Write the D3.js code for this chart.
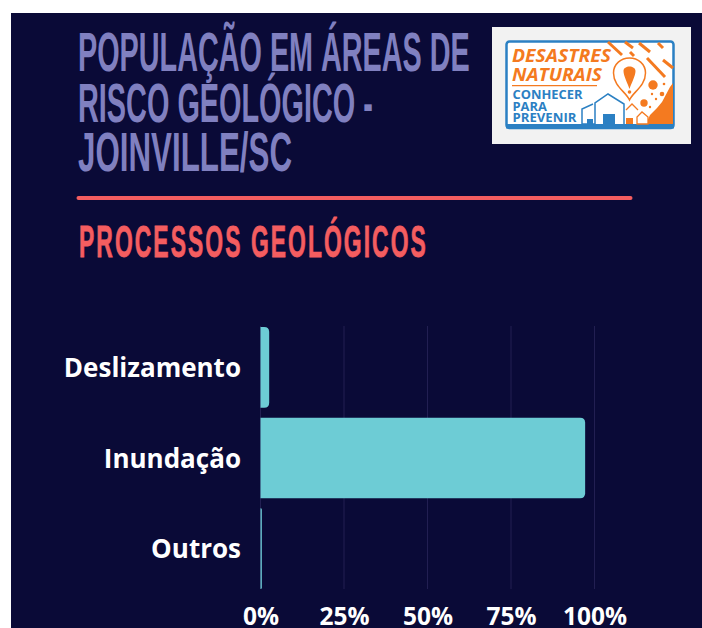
<!DOCTYPE html>
<html>
<head>
<meta charset="utf-8">
<script src="https://cdn.jsdelivr.net/npm/d3@7"></script>
<style>
html, body { margin: 0; padding: 0; background: #fff; overflow: hidden; }
svg { display: block; }
</style>
</head>
<body>
<svg id="chart" width="702" height="628"></svg>
<script>
const categories = ['Deslizamento', 'Inundação', 'Outros'];
const values = [2.6, 97.2, 0.4];
const xTicks = [0, 25, 50, 75, 100];
const titleLines = ['POPULAÇÃO EM ÁREAS DE', 'RISCO GEOLÓGICO -', 'JOINVILLE/SC'];
const subtitle = 'PROCESSOS GEOLÓGICOS';

const COLOR_BG = '#0a0a37';
const COLOR_TITLE = '#8080c0';
const COLOR_RED = '#f45d60';
const COLOR_BAR = '#6dccd5';
const COLOR_GRID = '#221f52';
const LOGO_BLUE = '#2b80c3';
const LOGO_ORANGE = '#f47a20';
const FONT_NARROW = '"Liberation Sans Narrow", "Liberation Sans", sans-serif';
const FONT_LABEL = '"Open Sans", "Noto Sans", sans-serif';

const root = d3.select('#chart');

root.append('rect')
    .attr('x', 11).attr('y', 13)
    .attr('width', 691).attr('height', 615)
    .attr('fill', COLOR_BG);

// texto condensado: mede a largura natural e escala so na horizontal
const fitText = (sel, tx, ty, width) => {
    const natural = sel.node().getComputedTextLength();
    sel.attr('transform', `translate(${tx},${ty}) scale(${width / natural},1)`);
};

// titulo
const titleBaselines = [71, 122, 171];
const titleWidths = [392, 295, 214];
titleLines.forEach((line, i) => {
    const t = root.append('text')
        .text(line)
        .attr('font-family', FONT_NARROW)
        .attr('font-weight', 700)
        .attr('font-size', 55)
        .attr('fill', COLOR_TITLE);
    fitText(t, 78, titleBaselines[i], titleWidths[i]);
});

root.append('line')
    .attr('x1', 78.5).attr('x2', 630.5)
    .attr('y1', 198).attr('y2', 198)
    .attr('stroke', COLOR_RED)
    .attr('stroke-width', 4)
    .attr('stroke-linecap', 'round');

const sub = root.append('text')
    .text(subtitle)
    .attr('font-family', FONT_NARROW)
    .attr('font-weight', 700)
    .attr('font-size', 44)
    .attr('letter-spacing', 4)
    .attr('stroke', COLOR_RED)
    .attr('stroke-width', 0.8)
    .attr('fill', COLOR_RED);
fitText(sub, 79, 257, 349);

// escalas
const x = d3.scaleLinear().domain([0, 100]).range([260.5, 594.5]);
const y = d3.scaleBand().domain(categories).range([322, 594]).paddingInner(0.11).paddingOuter(0.055);

// grade
const grid = root.append('g');
xTicks.forEach((t) => {
    grid.append('line')
        .attr('x1', x(t)).attr('x2', x(t))
        .attr('y1', 326).attr('y2', 589)
        .attr('stroke', COLOR_GRID)
        .attr('stroke-width', 1);
});

// barras, cantos arredondados so na direita
const barPath = (d, i) => {
    const x0 = x(0);
    const x1 = x(values[i]);
    const y0 = y(d);
    const y1 = y0 + y.bandwidth();
    const r = Math.min(5, x1 - x0);
    const p = d3.path();
    p.moveTo(x0, y0);
    p.lineTo(x1 - r, y0);
    p.quadraticCurveTo(x1, y0, x1, y0 + r);
    p.lineTo(x1, y1 - r);
    p.quadraticCurveTo(x1, y1, x1 - r, y1);
    p.lineTo(x0, y1);
    p.closePath();
    return p.toString();
};
root.append('g').selectAll('path')
    .data(categories)
    .join('path')
    .attr('d', barPath)
    .attr('fill', COLOR_BAR);

// eixos
const axisY = root.append('g')
    .attr('transform', 'translate(241,1.5)')
    .call(d3.axisLeft(y).tickSize(0).tickPadding(0));
axisY.select('.domain').remove();
axisY.selectAll('text')
    .attr('fill', '#fff')
    .attr('font-family', FONT_LABEL)
    .attr('font-weight', 700)
    .attr('font-size', 26);

const axisX = root.append('g')
    .attr('transform', 'translate(0,608)')
    .call(d3.axisBottom(x).tickValues(xTicks).tickFormat((d) => d + '%').tickSize(0).tickPadding(0));
axisX.select('.domain').remove();
axisX.selectAll('text')
    .attr('fill', '#fff')
    .attr('font-family', FONT_LABEL)
    .attr('font-weight', 700)
    .attr('font-size', 24.5);

// logo
const logo = root.append('g');
logo.append('rect')
    .attr('x', 492).attr('y', 27)
    .attr('width', 199).attr('height', 117)
    .attr('fill', '#f2f2f2');
logo.append('rect')
    .attr('x', 506.5).attr('y', 41.5)
    .attr('width', 167).attr('height', 86.5)
    .attr('rx', 3)
    .attr('fill', '#fff')
    .attr('stroke', LOGO_BLUE)
    .attr('stroke-width', 2.5);

// encosta laranja
logo.append('path')
    .attr('d', 'M646,124 L650,115 L657,108 L662,102 L670,87 L673,83 L673,124 Z')
    .attr('fill', LOGO_ORANGE);
logo.append('rect').attr('x', 626).attr('y', 118).attr('width', 7).attr('height', 6).attr('fill', LOGO_ORANGE);

logo.append('rect')
    .attr('x', 506).attr('y', 124)
    .attr('width', 168).attr('height', 4.5)
    .attr('fill', LOGO_BLUE);

// chuva
[[608, 42, 622, 55], [625, 42, 633, 48], [630, 52, 634, 56], [639, 43, 650, 52], [658, 43, 663, 48],
 [647, 58, 665, 77], [663, 60, 673, 68]].forEach((s) => {
    logo.append('line')
        .attr('x1', s[0]).attr('y1', s[1])
        .attr('x2', s[2]).attr('y2', s[3])
        .attr('stroke', LOGO_ORANGE)
        .attr('stroke-width', 3);
});
[[653, 85, 4.7], [644, 103, 3.7], [662, 94, 2.3], [664, 84, 1.3], [652, 94, 1.2], [656, 99, 1.2], [650, 107, 1.2]].forEach((c) => {
    logo.append('circle')
        .attr('cx', c[0]).attr('cy', c[1]).attr('r', c[2])
        .attr('fill', LOGO_ORANGE);
});

// marcador de alerta
logo.append('path')
    .attr('d', 'M629.5,100 C626,92 613.5,86 613.5,73 C613.5,64 621,58 629.5,58 C638,58 645.5,64 645.5,73 C645.5,86 633,92 629.5,100 Z')
    .attr('fill', '#fff')
    .attr('stroke', LOGO_ORANGE)
    .attr('stroke-width', 1.5);
logo.append('path')
    .attr('d', 'M623.5,71 C623.5,65 635.5,65 635.5,71 C635.5,76 631,84 629.5,89 C628,84 623.5,76 623.5,71 Z')
    .attr('fill', LOGO_ORANGE);
logo.append('circle')
    .attr('cx', 629.5).attr('cy', 92).attr('r', 1.8)
    .attr('fill', LOGO_ORANGE);

// casas
logo.append('path')
    .attr('d', 'M582,124 L582,109 L593,104 M582,109 L582,124 L595,124')
    .attr('fill', 'none')
    .attr('stroke', LOGO_BLUE)
    .attr('stroke-width', 1.5);
logo.append('path')
    .attr('d', 'M595,124 L595,103 L608,94 L624,104 L624,124')
    .attr('fill', '#fff')
    .attr('stroke', LOGO_BLUE)
    .attr('stroke-width', 1.5);
logo.append('path')
    .attr('d', 'M626,110 L632,104 L638,110')
    .attr('fill', 'none')
    .attr('stroke', LOGO_ORANGE)
    .attr('stroke-width', 1.3);
logo.append('path')
    .attr('d', 'M637,124 L637,117 L642,112 L648,117 L648,124 Z')
    .attr('fill', '#fff')
    .attr('stroke', LOGO_ORANGE)
    .attr('stroke-width', 1.3);
logo.append('rect').attr('x', 603).attr('y', 114).attr('width', 12).attr('height', 10).attr('fill', LOGO_BLUE);
logo.append('rect').attr('x', 587).attr('y', 119).attr('width', 6).attr('height', 5).attr('fill', LOGO_BLUE);

// textos do logo
const logoText = (txt, tx, ty, size, color, len, italic) => {
    const t = logo.append('text')
        .text(txt)
        .attr('font-family', FONT_LABEL)
        .attr('font-weight', 700)
        .attr('font-style', italic ? 'italic' : 'normal')
        .attr('font-size', size)
        .attr('fill', color);
    fitText(t, tx, ty, len);
};
logoText('DESASTRES', 512, 62, 18, LOGO_ORANGE, 99, true);
logoText('NATURAIS', 512, 81, 18, LOGO_ORANGE, 90, true);
logo.append('line')
    .attr('x1', 512).attr('x2', 597)
    .attr('y1', 85.7).attr('y2', 85.7)
    .attr('stroke', LOGO_ORANGE)
    .attr('stroke-width', 1.2);
logoText('CONHECER', 512.5, 99, 12.5, LOGO_BLUE, 70, false);
logoText('PARA', 512.5, 110.5, 12.5, LOGO_BLUE, 34.5, false);
logoText('PREVENIR', 512.5, 122, 12.5, LOGO_BLUE, 64, false);
</script>
</body>
</html>
